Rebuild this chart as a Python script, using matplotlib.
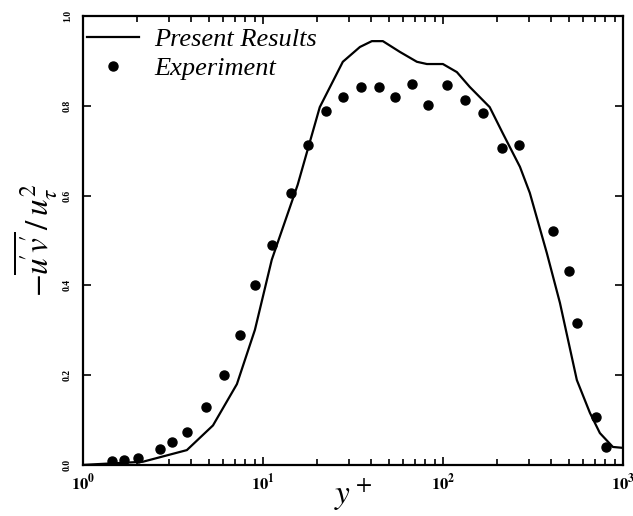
import matplotlib
matplotlib.use("Agg")
import matplotlib.pyplot as plt
from matplotlib.ticker import LogLocator, NullFormatter

plt.rcParams['mathtext.fontset'] = 'stix'
plt.rcParams['font.family'] = 'Liberation Serif'

# computed profile of Reynolds shear stress
yplus_sim = [1.0, 1.24, 2.15, 3.78, 5.28, 7.17, 9.03, 11.2, 15.6, 20.7, 27.8, 34.6,
             40.3, 46.4, 57.7, 71.7, 81.5, 100, 119.6, 141, 182, 215, 268, 304,
             378, 447, 555, 656, 745, 880, 1000]
uv_sim = [0.0, 0.002, 0.007, 0.033, 0.088, 0.180, 0.301, 0.457, 0.624, 0.797, 0.898, 0.931,
          0.944, 0.944, 0.920, 0.898, 0.893, 0.893, 0.875, 0.842, 0.797, 0.739, 0.664, 0.606,
          0.472, 0.361, 0.189, 0.116, 0.071, 0.040, 0.038]

# measured data
yplus_exp = [1.45, 1.69, 2.02, 2.68, 3.12, 3.78, 4.82, 6.07, 7.45, 9.03, 11.2, 14.3,
             17.8, 22.4, 27.8, 35.0, 44.1, 54.1, 67.3, 82.6, 105, 133, 167, 213, 264,
             408, 501, 555, 708, 805]
uv_exp = [0.009, 0.011, 0.016, 0.036, 0.051, 0.073, 0.129, 0.200, 0.290, 0.401, 0.490, 0.606,
          0.713, 0.788, 0.820, 0.842, 0.842, 0.820, 0.849, 0.802, 0.846, 0.813, 0.784, 0.706,
          0.713, 0.521, 0.432, 0.316, 0.107, 0.040]

yticks = [0.0, 0.2, 0.4, 0.6, 0.8, 1.0]
xticks = [1, 10, 100, 1000]
xticklabels = [r'$\mathbf{10^{0}}$', r'$\mathbf{10^{1}}$', r'$\mathbf{10^{2}}$', r'$\mathbf{10^{3}}$']

fig = plt.figure(figsize=(6.33, 5.16), dpi=100)
ax = fig.add_axes([0.131, 0.099, 0.853, 0.870])

ax.plot(yplus_sim, uv_sim, color='black', lw=1.6, label='Present Results')
ax.plot(yplus_exp, uv_exp, 'o', color='black', ms=6.5, label='Experiment')

ax.set_xscale('log')
ax.set_xlim(1, 1000)
ax.set_ylim(0, 1.0)

ax.set_xticks(xticks)
ax.set_xticklabels(xticklabels, fontsize=12)
ax.xaxis.set_minor_locator(LogLocator(base=10, subs=range(2, 10)))
ax.xaxis.set_minor_formatter(NullFormatter())
ax.set_yticks(yticks)
ax.set_yticklabels(['%.1f' % v for v in yticks], rotation=90, fontsize=7,
                   fontweight='bold', va='center')

ax.tick_params(which='both', direction='in', top=True, right=True, width=1.2)
ax.tick_params(which='major', length=6)
ax.tick_params(which='minor', length=4)
ax.tick_params(axis='x', pad=6)
ax.tick_params(axis='y', pad=8)
for sp in ax.spines.values():
    sp.set_linewidth(1.6)

ax.set_xlabel(r'$y^+$', fontsize=24)
ax.set_ylabel(r"$-\overline{u\!^{\prime}v\!^{\prime}}\,/\,u_\tau^2$", fontsize=24, labelpad=2)
ax.xaxis.set_label_coords(0.5, -0.025)

leg = ax.legend(loc='upper left', bbox_to_anchor=(-0.015, 1.0), frameon=False,
                handlelength=2.0, handletextpad=0.55, labelspacing=0.2,
                borderpad=0.0, borderaxespad=0.45,
                prop={'family': 'Liberation Serif', 'style': 'italic', 'size': 19})

fig.savefig('out.png', dpi=100)
